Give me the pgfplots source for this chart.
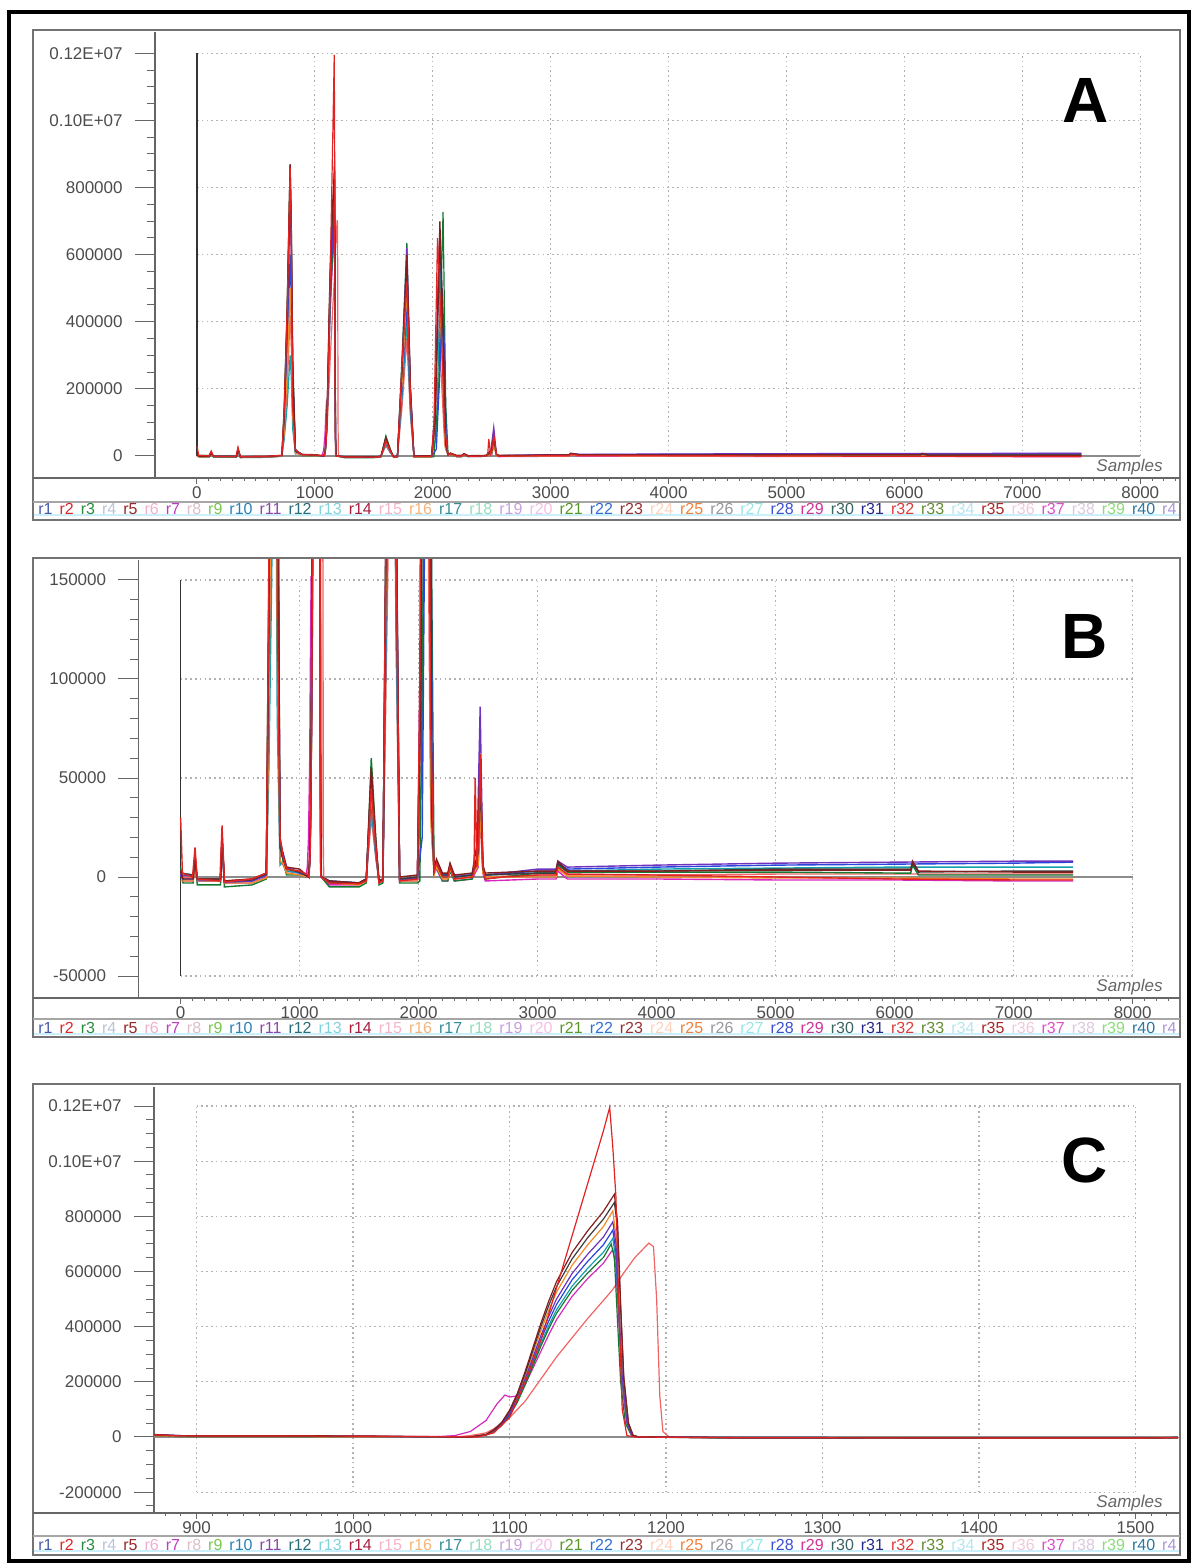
\documentclass[border=0pt]{standalone}
\usepackage{fontspec}
\setmainfont{Liberation Sans}
\usepackage{pgfplots}
\usepackage{pgfplotstable}
\pgfplotsset{compat=1.18}

\pgfplotstableread{
x y
0 30000
15 2000
100 0
121 15000
140 -1000
330 -2000
348 26000
368 -2500
600 -1000
720 2000
740 140000
765 430000
790 860000
800 650000
812 139000
835 20000
862 10000
890 4000
1000 3000
1070 1000
1080 0
1090 15000
1100 70000
1110 200000
1120 350000
1130 540000
1140 730000
1150 920000
1160 1110000
1164 1195000
1166 1050000
1168 870000
1170 450000
1172 100000
1175 5000
1180 0
1250 -3000
1500 -3500
1560 -2000
1602 45000
1640 15000
1667 -3000
1700 -2000
1740 280000
1780 520000
1810 180000
1840 -2000
1990 -1000
2010 100000
2040 650000
2070 400000
2100 80000
2130 3000
2150 7000
2200 0
2245 0
2264 5000
2300 -1000
2450 0
2465 2000
2475 50000
2490 5000
2505 20000
2517 62000
2540 5000
2560 -1000
2700 0
3000 1000
3155 1000
3170 5000
3250 1500
4000 1000
5000 0
6000 -1000
7000 -1500
7500 -1500
}\sone

\pgfplotstableread{
x y
0 5000
20 -3000
105 -3000
121 8000
140 -4000
335 -4000
348 20000
368 -5000
600 -4000
720 -1000
740 150000
765 450000
790 870000
800 700000
812 300000
835 15000
862 8000
890 1000
1000 1000
1075 0
1085 7000
1090 21000
1095 42000
1100 77000
1105 126000
1110 189000
1115 259000
1120 329000
1125 392000
1130 448000
1140 532000
1150 595000
1160 651000
1165 700000
1167 650000
1169 420000
1171 200000
1174 50000
1178 5000
1182 0
1250 -5000
1500 -5000
1560 -3000
1602 60000
1640 20000
1667 -4000
1700 -3000
1740 300000
1780 635000
1810 200000
1840 -3000
1990 -3000
2010 -2000
2050 200000
2087 727000
2110 150000
2130 2000
2150 5000
2200 -2000
2245 -2000
2264 3000
2300 -2000
2450 -1000
2500 10000
2517 40000
2540 3000
2560 -1000
3000 2000
3155 2000
3170 6000
3250 2500
4000 2500
5000 2500
6000 2000
6135 2000
6150 6000
6200 1000
7000 1000
7500 1000
}\stwo

\pgfplotstableread{
x y
0 1000
20 -1000
105 -1000
121 5000
140 -2000
335 -2000
348 15000
368 -3000
600 -2000
720 1000
740 80000
765 300000
790 600000
800 450000
812 150000
835 10000
862 12000
890 5000
1000 2000
1075 0
1085 7500
1090 22500
1095 45000
1100 82000
1105 135000
1110 202000
1115 277000
1120 352000
1125 420000
1130 480000
1140 570000
1150 637000
1160 697000
1166 750000
1168 670000
1170 450000
1172 220000
1175 60000
1178 8000
1182 0
1250 -2000
1500 -3000
1560 -1000
1602 40000
1640 12000
1667 -2000
1700 -1000
1740 200000
1780 450000
1810 150000
1840 -1000
1990 -1000
2030 20000
2060 250000
2080 500000
2100 300000
2115 20000
2130 4000
2150 8000
2200 1000
2245 1000
2264 4000
2300 0
2450 1000
2500 8000
2517 55000
2540 4000
2560 1000
3000 3000
3155 3000
3170 7000
3250 4000
4000 5000
5000 6000
6000 6500
7000 7000
7500 7500
}\sthree

\pgfplotstableread{
x y
0 2000
20 -2000
105 -2000
121 12000
140 -2000
335 -2000
348 18000
368 -3000
600 -3000
720 0
740 100000
765 380000
790 750000
800 600000
812 250000
835 15000
862 9000
890 3000
1000 2000
1050 0
1065 5000
1075 20000
1085 60000
1092 120000
1097 152000
1100 145000
1104 148000
1110 190000
1115 250000
1120 310000
1125 370000
1130 425000
1140 510000
1150 575000
1160 630000
1166 680000
1168 610000
1170 400000
1172 190000
1175 50000
1178 6000
1182 0
1250 -4000
1500 -4000
1560 -2000
1602 50000
1640 16000
1667 -3000
1700 -2000
1740 250000
1780 560000
1810 190000
1840 -2000
1990 -2000
2020 150000
2050 600000
2080 300000
2105 30000
2130 2000
2150 4000
2200 -2000
2245 -2000
2264 6000
2300 -2000
2450 -1000
2500 5000
2517 45000
2540 2000
2560 -2000
3000 -1000
3155 -1000
3170 3000
3250 -1000
4000 -1000
5000 -1500
6000 -1500
7000 -2000
7500 -2000
}\sfour

\pgfplotstableread{
x y
0 3000
20 -1000
105 -1000
121 10000
140 -1000
335 -1000
348 22000
368 -2000
600 -1000
720 2000
740 130000
765 440000
790 870000
800 690000
812 260000
835 20000
862 11000
890 5000
1000 4000
1075 0
1085 9000
1090 26000
1095 53000
1100 97000
1105 158000
1110 238000
1115 325000
1120 412000
1125 492000
1130 563000
1140 669000
1150 748000
1160 818000
1167 880000
1169 780000
1171 480000
1173 220000
1176 50000
1179 5000
1183 0
1250 -2000
1500 -3000
1560 -1000
1602 55000
1640 18000
1667 -2000
1700 -1000
1740 270000
1780 600000
1810 200000
1840 0
1990 1000
2020 100000
2060 700000
2090 350000
2110 40000
2130 4000
2150 9000
2200 2000
2245 2000
2264 7000
2300 1000
2450 2000
2500 20000
2517 60000
2540 6000
2560 2000
3000 3000
3155 3000
3170 8000
3250 3000
4000 3000
5000 3500
6000 3500
6135 3500
6150 8000
6200 3000
7000 2500
7500 2500
}\sfive

\pgfplotstableread{
x y
0 -2000
105 -2000
121 6000
140 -2000
335 -2000
348 16000
368 -3000
600 -3000
720 -500
740 70000
765 250000
790 500000
800 380000
812 120000
835 8000
862 7000
890 2000
1000 1000
1075 0
1085 8000
1090 24000
1095 49000
1100 90000
1105 148000
1110 221000
1115 303000
1120 385000
1125 459000
1130 525000
1140 623000
1150 697000
1160 763000
1166 820000
1168 730000
1170 480000
1172 230000
1175 60000
1178 8000
1182 0
1250 -3000
1500 -4000
1560 -2000
1602 42000
1640 13000
1667 -3000
1700 -2000
1740 220000
1780 500000
1810 170000
1840 -2000
1990 -2000
2020 120000
2050 550000
2080 280000
2105 25000
2130 1000
2150 5000
2200 -1000
2245 -1000
2264 4000
2300 -1000
2450 0
2500 6000
2517 35000
2540 2000
2560 0
3000 0
3155 0
3170 4000
3250 500
4000 0
5000 -500
6000 -500
7000 -1000
7500 -1000
}\ssix

\pgfplotstableread{
x y
0 2000
105 1000
121 7000
140 -1000
335 -1000
348 17000
368 -2000
600 -2000
720 1000
740 50000
765 150000
790 300000
800 230000
812 80000
835 6000
862 8000
890 3000
1000 2000
1075 0
1085 7000
1090 21000
1095 43000
1100 79000
1105 130000
1110 194000
1115 266000
1120 338000
1125 403000
1130 461000
1140 547000
1150 612000
1160 670000
1166 720000
1168 640000
1170 430000
1172 200000
1175 50000
1178 6000
1182 0
1250 -2000
1500 -3000
1560 -1000
1602 35000
1640 10000
1667 -2000
1700 -1000
1740 180000
1780 400000
1810 130000
1840 -1000
1990 -1000
2030 60000
2070 600000
2095 200000
2112 20000
2130 3000
2150 6000
2200 0
2245 0
2264 5000
2300 0
2450 1000
2500 6000
2517 40000
2540 3000
2560 1000
3000 2000
3155 2000
3170 6000
3250 3000
4000 4000
5000 4500
6000 5000
7000 5000
7500 5000
}\sseven

\pgfplotstableread{
x y
0 1000
105 500
121 9000
140 -1500
335 -1500
348 20000
368 -2500
600 -2000
720 1000
740 110000
765 400000
790 800000
800 640000
812 250000
835 15000
862 10000
890 4000
1000 3000
1075 0
1085 8000
1090 23000
1095 47000
1100 86000
1105 140000
1110 211000
1115 289000
1120 367000
1125 437000
1130 500000
1140 593000
1150 663000
1160 725000
1166 780000
1168 700000
1170 460000
1172 220000
1175 55000
1178 7000
1182 0
1250 -3000
1500 -3000
1560 -1500
1602 48000
1640 15000
1667 -2500
1700 -1500
1740 280000
1780 620000
1810 210000
1840 -1000
1990 -500
2020 130000
2060 680000
2090 320000
2110 30000
2130 3000
2150 7000
2200 1000
2245 1000
2264 6000
2300 1000
2450 1000
2490 10000
2517 86000
2540 5000
2560 1000
3000 4000
3155 4000
3170 8000
3250 5000
4000 6000
5000 7000
6000 7500
7000 8000
7500 8000
}\seight

\pgfplotstableread{
x y
0 0
105 -500
121 5000
140 -1000
335 -1000
348 14000
368 -2000
600 -1000
720 1000
740 60000
765 200000
790 420000
800 330000
812 110000
835 8000
862 6000
890 2000
1000 1000
1065 0
1075 5000
1085 15000
1090 30000
1100 70000
1110 130000
1120 210000
1130 290000
1140 360000
1150 430000
1160 495000
1166 535000
1173 595000
1180 650000
1189 703000
1192 690000
1194 500000
1196 150000
1198 20000
1202 0
1250 -2000
1500 -3000
1560 -1000
1602 30000
1640 10000
1667 -2000
1700 -1000
1740 150000
1780 350000
1810 120000
1840 -1000
1990 -1000
2020 80000
2040 400000
2070 250000
2100 40000
2130 2000
2150 5000
2200 -1000
2245 -1000
2264 3000
2300 -1000
2450 0
2500 5000
2517 30000
2540 2000
2560 0
3000 1000
3155 1000
3170 4000
3250 1000
4000 1000
5000 1500
6000 1500
7000 1500
7500 1500
}\snine

\pgfplotstableread{
x y
0 2000
105 1000
121 8000
140 -1000
335 -1000
348 19000
368 -2000
600 -1500
720 1500
740 120000
765 420000
790 840000
800 660000
812 240000
835 15000
862 9000
890 4000
1000 2500
1075 0
1085 8500
1090 25000
1095 51000
1100 94000
1105 153000
1110 230000
1115 315000
1120 400000
1125 476000
1130 545000
1140 646000
1150 723000
1160 790000
1167 850000
1169 760000
1171 470000
1173 210000
1176 50000
1179 5000
1183 0
1250 -2500
1500 -3000
1560 -1000
1602 52000
1640 17000
1667 -2000
1700 -1000
1740 260000
1780 580000
1810 190000
1840 -1000
1990 0
2020 110000
2060 660000
2090 330000
2110 35000
2130 3000
2150 8000
2200 1000
2245 1000
2264 6000
2300 0
2450 1000
2500 12000
2517 50000
2540 4000
2560 1000
3000 2000
3155 2000
3170 7000
3250 3000
4000 3000
5000 4000
6000 4000
6135 4000
6150 7000
6200 2500
7000 3000
7500 3000
}\sten

\definecolor{cRed}{RGB}{225,35,35}
\definecolor{cGreen}{RGB}{20,120,50}
\definecolor{cBlue}{RGB}{40,70,220}
\definecolor{cMag}{RGB}{215,40,190}
\definecolor{cBrown}{RGB}{130,30,30}
\definecolor{cOrange}{RGB}{240,140,40}
\definecolor{cTeal}{RGB}{20,160,170}
\definecolor{cPurple}{RGB}{110,50,190}
\definecolor{cSalmon}{RGB}{240,100,100}
\definecolor{cDark}{RGB}{60,60,60}

\newcommand{\lgc}[2]{\textcolor[RGB]{#1}{#2}}
\newcommand{\strip}{\hbox to 569pt{%
\lgc{70,90,170}{r1}\hfil\lgc{220,40,40}{r2}\hfil\lgc{40,140,60}{r3}\hfil\lgc{185,195,215}{r4}\hfil
\lgc{150,40,40}{r5}\hfil\lgc{240,175,205}{r6}\hfil\lgc{190,60,190}{r7}\hfil\lgc{220,190,200}{r8}\hfil
\lgc{120,200,80}{r9}\hfil\lgc{40,130,180}{r10}\hfil\lgc{140,70,170}{r11}\hfil\lgc{40,110,120}{r12}\hfil
\lgc{130,210,220}{r13}\hfil\lgc{170,30,60}{r14}\hfil\lgc{245,180,200}{r15}\hfil\lgc{245,180,120}{r16}\hfil
\lgc{50,140,150}{r17}\hfil\lgc{150,220,190}{r18}\hfil\lgc{200,160,220}{r19}\hfil\lgc{245,190,230}{r20}\hfil
\lgc{90,150,40}{r21}\hfil\lgc{50,110,210}{r22}\hfil\lgc{150,50,50}{r23}\hfil\lgc{250,210,190}{r24}\hfil
\lgc{240,130,60}{r25}\hfil\lgc{150,150,160}{r26}\hfil\lgc{150,230,230}{r27}\hfil\lgc{60,80,210}{r28}\hfil
\lgc{210,50,150}{r29}\hfil\lgc{60,100,100}{r30}\hfil\lgc{40,40,140}{r31}\hfil\lgc{220,60,60}{r32}\hfil
\lgc{100,140,50}{r33}\hfil\lgc{180,230,240}{r34}\hfil\lgc{170,40,40}{r35}\hfil\lgc{240,200,220}{r36}\hfil
\lgc{220,80,200}{r37}\hfil\lgc{220,200,220}{r38}\hfil\lgc{140,220,120}{r39}\hfil\lgc{40,120,160}{r40}\hfil
\lgc{170,150,220}{r4}}}

\tikzset{
  tk/.style={draw=black!60, line width=0.5pt},
  gr/.style={draw=black!30, line width=0.6pt, dash pattern=on 0.8pt off 1.6pt},
}
\pgfplotsset{
  chrom/.style={
    scale only axis,
    anchor=south west,
    axis x line*=bottom, axis y line*=left,
    axis line style={draw=black!60, line width=0.7pt},
    tick style={draw=none},
    major tick length=0pt, minor tick length=0pt,
    scaled ticks=false,
    clip mode=individual,
    ticklabel style={font=\fontsize{8.5}{9}\selectfont, text=black!70},
    yticklabel style={anchor=east, inner sep=0pt, xshift=-16pt},
    xticklabel style={anchor=north, inner sep=0pt, yshift=-4pt},
    every axis plot/.append style={line width=0.6pt, mark=none},
  },
}

\newcommand{\allplots}{%
  \addplot[cSalmon] table {\snine};
  \addplot[cMag] table {\sfour};
  \addplot[cTeal] table {\sseven};
  \addplot[cGreen] table {\stwo};
  \addplot[cBlue] table {\sthree};
  \addplot[cOrange] table {\ssix};
  \addplot[cPurple] table {\seight};
  \addplot[cDark] table {\sten};
  \addplot[cBrown] table {\sfive};
  \addplot[cRed] table {\sone};
}

\begin{document}
\begin{tikzpicture}
\path[use as bounding box] (0pt,0pt) rectangle (597.5pt,782pt);

% ================= Panel A =================
\begin{axis}[chrom, at={(77.5pt,543pt)}, width=511.5pt, height=223pt,
  xmin=-356, xmax=8320, ymin=-65550, ymax=1263400,
  xtick={0,1000,2000,3000,4000,5000,6000,7000,8000},
  xticklabels={0,1000,2000,3000,4000,5000,6000,7000,8000},
  ytick={0,200000,400000,600000,800000,1000000,1200000},
  yticklabels={0,200000,400000,600000,800000,0.10E+07,0.12E+07}]
\pgfplotsinvokeforeach{1000,2000,...,8000}{\draw[gr] (axis cs:#1,0) -- (axis cs:#1,1200000);}
\pgfplotsinvokeforeach{200,400,...,1200}{\draw[gr] (axis cs:0,#1000) -- (axis cs:8000,#1000);}
\pgfplotsinvokeforeach{0,50,...,1200}{\draw[tk] (axis cs:-356,#1000) -- ++(-4pt,0pt);}
\pgfplotsinvokeforeach{0,200,...,1200}{\draw[tk] (axis cs:-356,#1000) -- ++(-10pt,0pt);}
\pgfplotsinvokeforeach{0,100,...,8300}{\draw[tk] (axis cs:#1,-65550) -- ++(0pt,-1.5pt);}
\pgfplotsinvokeforeach{0,1000,...,8000}{\draw[tk] (axis cs:#1,-65550) -- ++(0pt,-3pt);}
\addplot[black!45, line width=0.6pt] coordinates {(0,0) (8000,0)};
\addplot[black!80, line width=0.6pt] coordinates {(0,0) (0,1200000)};
\allplots
\end{axis}

% ================= Panel B =================
\begin{axis}[chrom, at={(69.25pt,283pt)}, width=519.75pt, height=219pt,
  xmin=-354, xmax=8381, ymin=-61100, ymax=160100,
  xtick={0,1000,2000,3000,4000,5000,6000,7000,8000},
  xticklabels={0,1000,2000,3000,4000,5000,6000,7000,8000},
  ytick={-50000,0,50000,100000,150000},
  yticklabels={-50000,0,50000,100000,150000},
  every axis plot/.append style={line width=0.7pt}]
\pgfplotsinvokeforeach{1000,2000,...,8000}{\draw[gr] (axis cs:#1,-50000) -- (axis cs:#1,150000);}
\pgfplotsinvokeforeach{-50,50,100,150}{\draw[gr] (axis cs:0,#1000) -- (axis cs:8000,#1000);}
\pgfplotsinvokeforeach{-50,-40,...,150}{\draw[tk] (axis cs:-354,#1000) -- ++(-4pt,0pt);}
\pgfplotsinvokeforeach{-50,0,...,150}{\draw[tk] (axis cs:-354,#1000) -- ++(-10pt,0pt);}
\pgfplotsinvokeforeach{0,100,...,8300}{\draw[tk] (axis cs:#1,-61100) -- ++(0pt,-1.5pt);}
\pgfplotsinvokeforeach{0,1000,...,8000}{\draw[tk] (axis cs:#1,-61100) -- ++(0pt,-3pt);}
\addplot[black!45, line width=0.6pt] coordinates {(0,0) (8000,0)};
\addplot[black!80, line width=0.6pt] coordinates {(0,-50000) (0,150000)};
\allplots
\end{axis}

% ================= Panel C =================
\begin{axis}[chrom, at={(77pt,25.5pt)}, width=512pt, height=213pt,
  xmin=872.8, xmax=1527.2, ymin=-275600, ymax=1269000,
  xtick={900,1000,1100,1200,1300,1400,1500},
  xticklabels={900,1000,1100,1200,1300,1400,1500},
  ytick={-200000,0,200000,400000,600000,800000,1000000,1200000},
  yticklabels={-200000,0,200000,400000,600000,800000,0.10E+07,0.12E+07}]
\pgfplotsinvokeforeach{900,1000,...,1500}{\draw[gr] (axis cs:#1,-200000) -- (axis cs:#1,1200000);}
\pgfplotsinvokeforeach{-200,200,400,600,800,1000,1200}{\draw[gr] (axis cs:900,#1000) -- (axis cs:1500,#1000);}
\pgfplotsinvokeforeach{-250,-200,...,1200}{\draw[tk] (axis cs:872.8,#1000) -- ++(-4pt,0pt);}
\pgfplotsinvokeforeach{-200,0,...,1200}{\draw[tk] (axis cs:872.8,#1000) -- ++(-10pt,0pt);}
\pgfplotsinvokeforeach{880,890,...,1520}{\draw[tk] (axis cs:#1,-275600) -- ++(0pt,-1.5pt);}
\pgfplotsinvokeforeach{900,1000,...,1500}{\draw[tk] (axis cs:#1,-275600) -- ++(0pt,-3pt);}
\addplot[black!45, line width=0.6pt] coordinates {(872.8,0) (1527.2,0)};
\allplots
\end{axis}

% ================= frames and decorations =================
\foreach \top/\bot/\axl/\sep/\leg/\cy/\smp in
   {767/522/543/531/527.5/524.5/548.5,
    503/263.5/283/272.5/268/265/288.5,
    240/4.5/25.5/14/9.5/6.5/30.5}{
  \draw[black!55, line width=1pt] (16.5pt,\bot pt) rectangle (590pt,\top pt);
  \draw[black!60, line width=0.8pt] (16.5pt,\axl pt) -- (590pt,\axl pt);
  \draw[black!35, line width=0.6pt] (16.5pt,\sep pt) -- (590pt,\sep pt);
  \draw[cyan!20, line width=1.2pt] (17pt,\cy pt) -- (589.5pt,\cy pt);
  \node[anchor=west, inner sep=0pt, font=\fontsize{8}{9}\selectfont] at (19pt,\leg pt) {\strip};
  \node[anchor=east, inner sep=0pt, font=\fontsize{8.5}{9}\selectfont\itshape, text=black!60] at (581.5pt,\smp pt) {Samples};
}
\node[font=\fontsize{32}{32}\selectfont\bfseries] at (543pt,731.5pt) {A};
\node[font=\fontsize{32}{32}\selectfont\bfseries] at (542.5pt,464pt) {B};
\node[font=\fontsize{32}{32}\selectfont\bfseries] at (542.5pt,202pt) {C};

\draw[black, line width=1.6pt] (4.5pt,1.5pt) rectangle (594.5pt,776pt);
\end{tikzpicture}
\end{document}
